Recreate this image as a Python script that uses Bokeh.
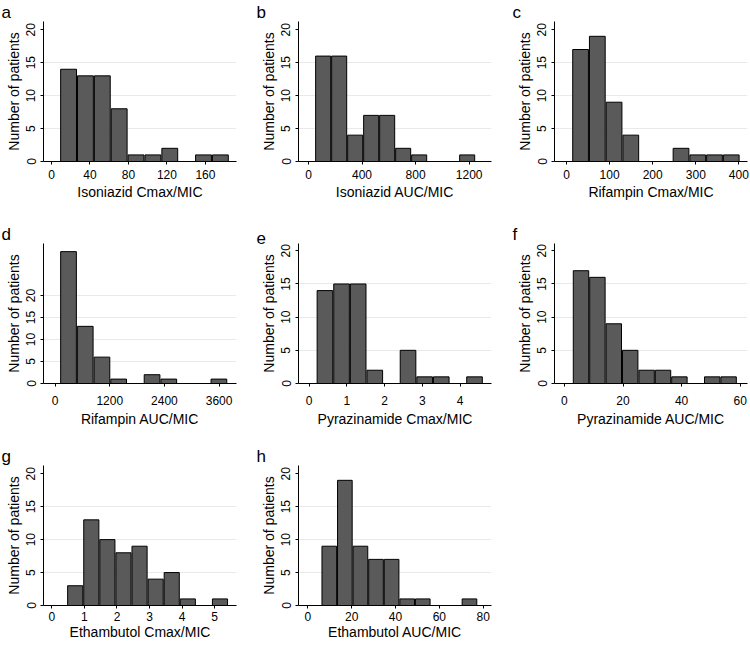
from bokeh.plotting import figure
from bokeh.layouts import column, row
from bokeh.models import Range1d, FixedTicker, Title
from bokeh.embed import file_html
from bokeh.resources import INLINE
import numpy as np

# ---------------- data ----------------
letters = ["a", "b", "c", "d", "e", "f", "g", "h"]
x_titles = ["Isoniazid Cmax/MIC", "Isoniazid AUC/MIC", "Rifampin Cmax/MIC",
            "Rifampin AUC/MIC", "Pyrazinamide Cmax/MIC", "Pyrazinamide AUC/MIC",
            "Ethambutol Cmax/MIC", "Ethambutol AUC/MIC"]
y_title = "Number of patients"

# histogram bins: first edge and width of each panel (10 bins each)
bin_start = [9.0, 50.0, 13.2, 110.0, 0.20, 2.85, 0.47, 6.2]
bin_width = [17.53, 119.5, 38.85, 367.0, 0.44, 5.6, 0.494, 7.11]

counts_a = [14, 13, 13, 8, 1, 1, 2, 0, 1, 1]
counts_b = [16, 16, 4, 7, 7, 2, 1, 0, 0, 1]
counts_c = [17, 19, 9, 4, 0, 0, 2, 1, 1, 1]
counts_d = [30, 13, 6, 1, 0, 2, 1, 0, 0, 1]
counts_e = [14, 15, 15, 2, 0, 5, 1, 1, 0, 1]
counts_f = [17, 16, 9, 5, 2, 2, 1, 0, 1, 1]
counts_g = [3, 13, 10, 8, 9, 4, 5, 1, 0, 1]
counts_h = [9, 19, 9, 7, 7, 1, 1, 0, 0, 1]
counts = [counts_a, counts_b, counts_c, counts_d, counts_e, counts_f, counts_g, counts_h]

x_ticks_a = [0, 40, 80, 120, 160]
x_ticks_b = [0, 400, 800, 1200]
x_ticks_c = [0, 100, 200, 300, 400]
x_ticks_d = [0, 1200, 2400, 3600]
x_ticks_e = [0, 1, 2, 3, 4]
x_ticks_f = [0, 20, 40, 60]
x_ticks_g = [0, 1, 2, 3, 4, 5]
x_ticks_h = [0, 20, 40, 60, 80]
x_ticks = [x_ticks_a, x_ticks_b, x_ticks_c, x_ticks_d, x_ticks_e, x_ticks_f, x_ticks_g, x_ticks_h]
y_ticks = [0, 5, 10, 15, 20]
grid_ticks = [[5, 10, 15], [5, 10, 15], [5, 10, 15], [5, 10, 15, 20],
              [5, 10, 15], [5, 10, 15], [5, 10, 15], [5, 10, 15]]

x_limits = [(-8.3, 192.3), (-74.5, 1367), (-27.9, 420), (-256, 3983),
            (-0.28, 4.83), (-3.4, 62.5), (-0.257, 5.67), (-4.3, 83.8)]
y_max = [21.25, 21.25, 21.25, 31.85, 21.1, 21.1, 21.25, 21.25]

# ---------------- layout / style ----------------
FONT = "Liberation Sans"
col_widths = [255, 256, 239]
row_heights = [222, 222, 201]
row_label_standoff = [5, 9, 3]
row_title_standoff = [2, 3, 0]
LEFT = 43
TOP = 21
FRAME_W = 193
FRAME_H = 140
BAR_FILL = "#5a5a5a"
GRID_COLOR = "#e9e9e9"


def make_panel(i, r, width, height):
    p = figure(width=width, height=height, output_backend="svg", toolbar_location=None,
               x_range=Range1d(*x_limits[i]), y_range=Range1d(0, y_max[i]),
               min_border_left=LEFT, min_border_right=width - LEFT - FRAME_W,
               min_border_top=TOP, min_border_bottom=height - TOP - FRAME_H)
    p.outline_line_color = None
    p.background_fill_color = "white"
    p.border_fill_color = "white"

    c = np.array(counts[i], dtype=float)
    edges = bin_start[i] + bin_width[i] * np.arange(len(c) + 1)
    gap = 0.03 * bin_width[i]
    keep = c > 0
    p.quad(left=(edges[:-1] + gap)[keep], right=(edges[1:] - gap)[keep],
           bottom=0, top=c[keep], fill_color=BAR_FILL, line_color="black", line_width=1)

    p.xaxis.ticker = FixedTicker(ticks=x_ticks[i])
    p.yaxis.ticker = FixedTicker(ticks=y_ticks)
    p.xgrid.visible = False
    p.ygrid.ticker = FixedTicker(ticks=grid_ticks[i])
    p.ygrid.grid_line_color = GRID_COLOR
    p.ygrid.grid_line_width = 1

    for ax in (p.xaxis[0], p.yaxis[0]):
        ax.axis_line_color = "black"
        ax.axis_line_width = 1
        ax.major_tick_line_color = "black"
        ax.major_tick_out = 3
        ax.major_tick_in = 0
        ax.minor_tick_line_color = None
        ax.major_label_text_font = FONT
        ax.major_label_text_font_size = "12px"
        ax.major_label_text_color = "black"
        ax.axis_label_text_font = FONT
        ax.axis_label_text_font_size = "14px"
        ax.axis_label_text_font_style = "normal"
        ax.axis_label_text_color = "black"
    p.yaxis.major_label_standoff = 5
    p.yaxis.axis_label_standoff = 2
    p.xaxis.major_label_standoff = row_label_standoff[r]
    p.xaxis.axis_label_standoff = row_title_standoff[r]
    p.xaxis.axis_label = x_titles[i]
    p.yaxis.axis_label = y_title
    p.yaxis.major_label_orientation = "parallel"

    p.title = Title(text=letters[i], align="left", offset=-LEFT + 1, standoff=0,
                    text_font=FONT, text_font_size="17px", text_font_style="normal",
                    text_color="black")
    return p


panels = []
for i in range(8):
    r, cidx = divmod(i, 3)
    panels.append(make_panel(i, r, col_widths[cidx], row_heights[r]))

layout = column(row(panels[0], panels[1], panels[2]),
                row(panels[3], panels[4], panels[5]),
                row(panels[6], panels[7]))

open("out.html", "w").write(file_html(layout, INLINE, title="Histograms"))
